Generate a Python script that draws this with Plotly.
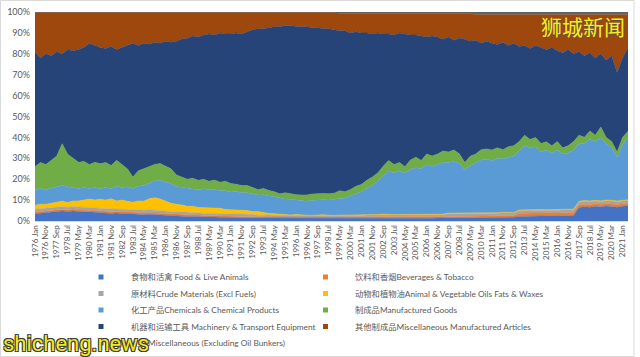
import plotly.graph_objects as go
import pandas as pd

# ---- categories: one sample every 5 months, 1976 Jan .. 2021 Jun ----
periods = pd.date_range("1976-01-01", periods=110, freq="5MS")
categories = [d.strftime("%Y %b") for d in periods]
tick_labels = categories[::2]          # 1976 Jan, 1976 Nov, ... 2021 Jan

# ---- series shares (% of total) ----
food = [3.5,3.8,4.0,4.2,4.5,4.8,4.6,4.8,4.5,4.6,
        4.4,4.2,4.0,3.8,3.6,3.8,3.5,3.6,3.4,3.2,
        3.0,3.2,3.0,2.8,2.6,2.5,2.4,2.3,2.2,2.2,
        2.1,2.0,2.0,1.9,1.8,1.8,1.7,1.6,1.6,1.5,
        1.5,1.4,1.4,1.4,1.3,1.3,1.3,1.3,1.2,1.2,
        1.2,1.1,1.2,1.3,1.2,1.1,1.2,1.2,1.3,1.2,
        1.2,1.2,1.2,1.2,1.2,1.2,1.2,1.2,1.3,1.3,
        1.3,1.3,1.3,1.3,1.4,1.4,1.4,1.4,1.5,1.5,
        1.5,1.5,1.5,1.6,1.6,1.6,1.7,1.8,1.8,2.2,
        2.3,2.3,2.4,2.3,2.4,2.5,2.4,2.5,2.5,2.6,
        6.5,6.8,6.6,7.0,6.8,7.2,6.9,6.6,7.0,7.3]
beverages = [0.8,0.9,0.8,0.8,0.9,0.8,0.8,0.9,0.8,0.8,
             0.8,0.9,0.8,0.8,0.8,0.9,0.8,0.8,0.8,0.9,
             0.8,0.8,0.9,0.8,0.8,0.8,0.8,0.9,0.8,0.8,
             0.8,0.6,0.6,0.7,0.6,0.6,0.6,0.7,0.6,0.6,
             0.6,0.6,0.7,0.6,0.6,0.6,0.6,0.6,0.7,0.6,
             0.6,0.6,0.6,0.7,0.6,0.6,0.6,0.6,0.6,0.7,
             0.6,0.8,0.8,0.8,0.9,0.8,0.8,0.8,0.8,0.9,
             0.8,0.8,0.8,0.9,0.8,0.8,0.8,0.8,0.9,0.8,
             0.8,0.8,0.9,0.8,0.8,0.8,0.9,0.8,0.8,1.5,
             1.5,1.4,1.5,1.6,1.5,1.5,1.4,1.5,1.6,1.5,
             1.2,1.2,1.3,1.2,1.2,1.1,1.2,1.3,1.2,1.2]
crude = [1.3,1.2,1.3,1.4,1.3,1.3,1.2,1.3,1.4,1.3,
         1.3,1.3,1.2,1.3,1.4,1.3,1.3,1.2,1.3,1.3,
         1.3,1.4,1.3,1.3,1.2,1.1,1.1,1.2,1.1,1.1,
         1.1,1.0,1.1,1.1,1.2,1.1,1.0,1.1,1.1,1.1,
         1.1,0.8,0.8,0.9,0.8,0.8,0.8,0.7,0.8,0.8,
         0.8,0.8,0.9,0.8,0.8,0.7,0.8,0.8,0.8,0.9,
         0.8,0.9,0.9,0.9,1.0,0.9,0.9,0.9,0.9,1.0,
         0.9,0.9,0.9,1.0,0.9,0.9,1.3,1.3,1.4,1.3,
         1.3,1.3,1.4,1.3,1.3,1.3,1.4,1.3,1.3,1.3,
         1.3,1.4,1.3,1.3,1.2,1.3,1.4,1.3,1.3,1.3,
         1.4,1.5,1.4,1.4,1.3,1.4,1.5,1.4,1.4,1.4]
oils = [1.9,2.1,1.9,2.2,2.4,2.6,2.3,2.6,2.9,3.3,
        4.0,3.7,4.4,4.1,4.8,3.6,4.4,3.8,3.5,4.2,
        4.4,5.2,5.9,5.6,4.8,4.1,3.7,3.3,2.9,2.9,
        2.5,2.8,2.3,2.4,2.5,2.0,2.1,1.7,1.7,1.8,
        1.3,1.7,1.2,0.7,0.8,0.5,0.3,0.3,0.4,0.2,
        0.2,0.2,0.2,0.2,0.2,0.2,0.2,0.2,0.2,0.2,
        0.2,0.2,0.2,0.2,0.2,0.2,0.2,0.2,0.2,0.2,
        0.2,0.2,0.2,0.2,0.2,0.2,0.3,0.3,0.2,0.2,
        0.2,0.2,0.2,0.2,0.2,0.2,0.2,0.2,0.2,0.3,
        0.3,0.3,0.3,0.3,0.3,0.3,0.3,0.3,0.3,0.3,
        0.3,0.3,0.3,0.3,0.3,0.3,0.3,0.3,0.3,0.3]
chemicals = [7.5,7.5,7.0,7.0,7.0,7.5,7.5,6.5,6.0,6.0,
             5.0,6.0,5.0,6.0,5.0,7.0,6.0,7.0,6.5,7.0,
             7.5,7.5,8.0,9.0,9.5,9.5,8.5,8.5,8.5,8.5,
             8.5,9.0,9.0,9.0,8.5,9.0,8.5,9.0,8.5,8.5,
             8.5,8.0,8.5,8.5,8.0,7.8,7.5,7.5,7.0,7.2,
             6.7,7.2,7.2,7.2,7.2,7.7,8.2,8.2,9.2,10.2,
             11.2,12.4,13.9,15.9,18.4,20.9,19.9,20.9,19.8,21.3,
             22.3,21.8,23.8,22.8,23.7,24.7,24.2,24.7,23.7,20.7,
             22.7,24.2,25.2,25.6,25.1,26.1,25.5,26.4,26.9,28.2,
             30.6,29.6,30.0,27.6,28.5,26.9,28.5,26.4,26.9,28.3,
             27.6,27.3,29.5,28.1,30.3,26.9,25.2,21.0,26.6,29.8]
manufactured = [11,12.5,12,13.5,15,20,15.5,14,12.5,12.5,
                11.5,12,12,12,11,12.5,11,8.5,5.5,7.5,
                8,8,8,8,7.5,7,5.5,5,4.5,5,
                4.5,4.5,4,4.5,4,4.5,4,3.5,3.5,3.5,
                3,2.5,3,2.5,2.5,2,3,2.5,2.5,2.5,
                3,3,3,3,3,3,3.5,3,3,3.5,
                3.5,4,4,4,4.5,5,4,4,3,4.5,
                5,4,5,5,5,5.5,5,5.5,4.5,3.5,
                4.5,4,5,5,5,5,4.5,5,5,4.5,
                5,4,4.5,4,4,3.5,4,3,3.5,4,
                4,3,4,3,5,3,3,2.5,3.5,3]
machinery = [55,50,53,50,50,43,50,51.5,54,54.5,
             58,56,55.5,54.5,57,53,56,59,64,60,
             60,58.5,58.5,57.5,59.5,60.5,64,66,67.5,68,
             68.5,69,70.5,69.5,71.5,70.5,71.5,72.5,72.5,73.5,
             75.5,77,76.5,78,79,80,80,80.5,80.5,80.5,
             80.5,79.5,79.5,79,79,78,76.5,77,75,74,
             72.5,70.5,68.5,67,63.5,60.5,62,62,63.5,60,
             58.5,59.5,56,57.5,56,53.5,55,52.5,55.5,59,
             55,54.5,51,51.5,51,49.5,51.5,48.5,49,45.5,
             43,43.5,44,46,44,47,43.5,45.5,46,42,
             40,39,37.5,37,35,37,41,38,38,40]
misc_manufactured = [18.8,21.8,19.8,20.8,18.8,19.8,17.8,18.3,17.8,16.8,
                     14.8,15.8,16.8,17.3,16.3,17.8,16.8,15.8,14.8,15.8,
                     14.8,15.3,14.3,14.8,13.8,14.3,13.8,12.8,12.3,11.3,
                     11.8,10.8,10.3,10.8,9.8,10.3,10.3,9.8,10.3,9.3,
                     8.3,7.8,7.8,7.3,6.8,6.8,6.3,6.3,6.8,6.8,
                     6.8,7.3,7.3,7.8,7.8,8.3,8.4,8.4,9.4,8.9,
                     9.4,9.4,9.9,9.4,9.9,9.9,10.4,9.4,9.9,10.4,
                     10.4,10.9,11.4,10.9,11.4,12.4,11.4,12.9,11.9,12.4,
                     13.4,12.2,13.7,12.7,13.7,14.2,13.2,14.7,13.7,15.2,
                     14.7,16.2,14.7,15.7,16.7,15.7,17.2,18.2,16.7,18.7,
                     17.7,19.7,18.2,20.7,18.7,21.7,19.7,27.7,20.7,15.7]
misc_excl = [0.2]*56 + [0.6]*25 + [1.3]*29

series_names = [
    "食物和活禽 Food & Live Animals",
    "饮料和香烟Beverages & Tobacco",
    "原材料Crude Materials (Excl Fuels)",
    "动物和植物油Animal & Vegetable Oils Fats & Waxes",
    "化工产品Chemicals & Chemical Products",
    "制成品Manufactured Goods",
    "机器和运输工具 Machinery & Transport Equipment",
    "其他制成品Miscellaneous Manufactured Articles",
    "Miscellaneous (Excluding Oil Bunkers)",
]
series_values = [food, beverages, crude, oils, chemicals, manufactured,
                 machinery, misc_manufactured, misc_excl]
colors = ["#4472C4", "#ED7D31", "#A5A5A5", "#FFC000", "#5B9BD5",
          "#70AD47", "#264478", "#9E480E", "#636363"]

FONT = "Lato, 'Noto Sans CJK SC', sans-serif"
W, H = 640, 357
L, R, T, B = 35, 12, 12, 136
PW, PH = W - L - R, H - T - B

def px(x):
    return (x - L) / PW

def py(y):
    return (H - B - y) / PH

fig = go.Figure()
for name, vals, col in zip(series_names, series_values, colors):
    fig.add_trace(go.Scatter(
        x=categories, y=vals, name=name, mode="lines",
        stackgroup="one", groupnorm="percent",
        line=dict(width=0.5, color=col), fillcolor=col,
        showlegend=False, hoverinfo="x+y+name"))

# ---- legend (two columns, drawn as marker squares + text) ----
col_marker_x = [101, 325.5]
col_text_x = [129, 353]
row_y = [277, 293.5, 310, 326.5, 343]
annotations = []
shapes = []
for i, (name, col) in enumerate(zip(series_names, colors)):
    r, c = divmod(i, 2)
    shapes.append(dict(type="rect", xref="paper", yref="paper",
                       xsizemode="pixel", ysizemode="pixel",
                       xanchor=px(col_marker_x[c]), yanchor=py(row_y[r]),
                       x0=-2.5, x1=2.5, y0=-2.5, y1=2.5,
                       fillcolor=col, line=dict(width=0)))
    tx = col_text_x[c] if i < 8 else 146
    annotations.append(dict(x=px(tx), y=py(row_y[r]), xref="paper", yref="paper",
                            text=name, showarrow=False, xanchor="left", yanchor="middle",
                            font=dict(family=FONT, size=8.3, color="#595959")))

# chart-area border
shapes.append(dict(type="rect", xref="paper", yref="paper",
                   x0=px(0.5), x1=px(634), y0=py(0.5), y1=py(356.5),
                   line=dict(color="#D9D9D9", width=1), layer="below"))

# watermarks
outline = "-1px -1px 0 #3a3a3a, 1px -1px 0 #3a3a3a, -1px 1px 0 #3a3a3a, 1px 1px 0 #3a3a3a"
annotations.append(dict(x=px(583), y=py(26), xref="paper", yref="paper",
                        text="狮城新闻", showarrow=False, xanchor="center", yanchor="middle",
                        font=dict(family="'Noto Sans CJK SC'", size=21, color="#F8EC1A",
                                  shadow="1px 1px 1px #555")))
annotations.append(dict(x=px(1), y=py(343), xref="paper", yref="paper",
                        text="shicheng.news", showarrow=False, xanchor="left", yanchor="middle",
                        font=dict(family="Roboto", size=22, color="#F2E81C", shadow=outline)))

fig.update_layout(
    width=W, height=H,
    margin=dict(l=L, r=R, t=T, b=B, pad=0, autoexpand=False),
    paper_bgcolor="white", plot_bgcolor="white",
    font=dict(family=FONT, color="#595959"),
    xaxis=dict(type="category", range=[0, len(categories) - 1],
               tickmode="array", tickvals=tick_labels, ticktext=tick_labels,
               tickangle=-90, tickfont=dict(size=8, color="#595959"),
               showgrid=False, zeroline=False, ticks="", automargin=False,
               showline=True, linecolor="#D9D9D9", linewidth=1),
    yaxis=dict(range=[0, 100], tickmode="array",
               tickvals=list(range(0, 101, 10)),
               ticktext=[f"{v}%" for v in range(0, 101, 10)],
               tickfont=dict(size=9, color="#595959"),
               ticklabelstandoff=4, automargin=False,
               showgrid=False, zeroline=False, ticks="", showline=False),
    showlegend=False,
    shapes=shapes, annotations=annotations,
)

fig.write_html("out.html",
               config={"displayModeBar": False},
               post_script="document.body.style.margin='0';document.body.style.overflow='hidden';")
